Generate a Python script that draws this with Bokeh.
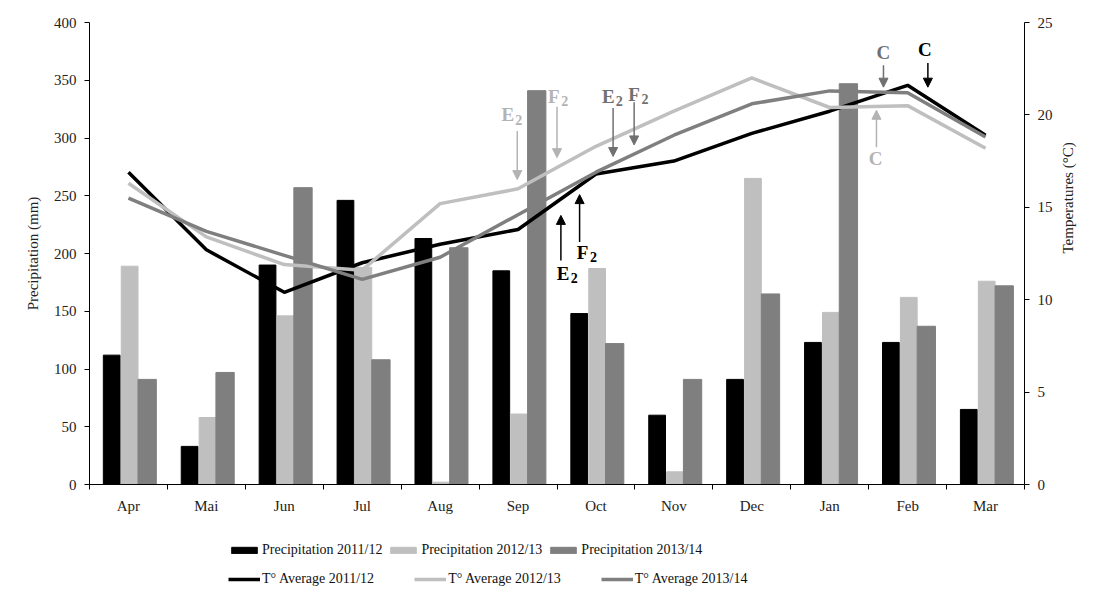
import math
from bokeh.plotting import figure
from bokeh.layouts import column
from bokeh.models import (Range1d, LinearAxis, FixedTicker, Legend, LegendItem,
                          Arrow, NormalHead, Label)
from bokeh.embed import file_html
from bokeh.resources import INLINE

# ---------------- data ----------------
months = ["Apr", "Mai", "Jun", "Jul", "Aug", "Sep", "Oct", "Nov", "Dec", "Jan", "Feb", "Mar"]
prec_2011 = [112, 33, 190, 246, 213, 185, 148, 60, 91, 123, 123, 65]
prec_2012 = [189, 58, 146, 188, 2, 61, 187, 11, 265, 149, 162, 176]
prec_2013 = [91, 97, 257, 108, 205, 341, 122, 91, 165, 347, 137, 172]
temp_2011 = [16.9, 12.7, 10.4, 12.0, 13.0, 13.8, 16.8, 17.5, 19.0, 20.2, 21.6, 18.9]
temp_2012 = [16.3, 13.4, 11.9, 11.6, 15.2, 16.0, 18.3, 20.2, 22.0, 20.4, 20.5, 18.2]
temp_2013 = [15.5, 13.7, 12.4, 11.1, 12.3, 14.6, 16.9, 18.9, 20.6, 21.3, 21.2, 18.8]
prec_ticks = [0, 50, 100, 150, 200, 250, 300, 350, 400]
temp_ticks = [0, 5, 10, 15, 20, 25]
prec_labels = ["Precipitation 2011/12", "Precipitation 2012/13", "Precipitation 2013/14"]
temp_labels = ["T° Average 2011/12", "T° Average 2012/13", "T° Average 2013/14"]

BLACK = "#000000"
LIGHT = "#bfbfbf"
DARK = "#7f7f7f"
FONT = "Liberation Serif"

centers = [i + 0.5 for i in range(len(months))]
precs = [prec_2011, prec_2012, prec_2013]
temps = [temp_2011, temp_2012, temp_2013]
colors = [BLACK, LIGHT, DARK]
bar_shift = [-0.215, 0.015, 0.24]
bar_width = [0.215, 0.215, 0.235]

p = figure(width=1099, height=516, output_backend="svg", toolbar_location=None,
           x_range=Range1d(0, 12), y_range=Range1d(0, 400),
           min_border_left=89, min_border_right=75, min_border_top=22,
           min_border_bottom=31)
p.outline_line_color = None
p.grid.visible = False
p.extra_y_ranges = {"temp": Range1d(0, 25)}

for vals, col, sh, w in zip(precs, colors, bar_shift, bar_width):
    p.vbar(x=[c + sh for c in centers], top=vals, width=w, color=col)
for vals, col in zip(temps, colors):
    p.line(centers, vals, y_range_name="temp", line_color=col, line_width=3.5)

# axes
def style_axis(ax):
    ax.axis_line_color = "#000000"
    ax.major_tick_line_color = "#000000"
    ax.minor_tick_line_color = None
    ax.major_tick_in = 0
    ax.major_tick_out = 5
    ax.major_label_text_font = FONT
    ax.major_label_text_font_size = "15px"
    ax.major_label_text_color = "#222222"
    ax.axis_label_text_font = FONT
    ax.axis_label_text_font_size = "15px"
    ax.axis_label_text_font_style = "normal"
    ax.axis_label_text_color = "#222222"

yax = p.yaxis[0]
yax.ticker = FixedTicker(ticks=prec_ticks)
yax.axis_label = "Precipitation (mm)"
style_axis(yax)
yax.major_label_standoff = 8
yax.axis_label_standoff = 10

rax = LinearAxis(y_range_name="temp", ticker=FixedTicker(ticks=temp_ticks),
                 axis_label="Temperatures (°C)")
style_axis(rax)
rax.major_label_standoff = 8
rax.axis_label_standoff = 12
rax.axis_label_orientation = math.pi / 2
p.add_layout(rax, "right")

xax = p.xaxis[0]
xax.ticker = FixedTicker(ticks=centers, minor_ticks=list(range(13)))
xax.major_label_overrides = {c: m for c, m in zip(centers, months)}
style_axis(xax)
xax.major_tick_line_color = None
xax.minor_tick_line_color = "#000000"
xax.minor_tick_in = 0
xax.minor_tick_out = 5
xax.major_label_standoff = 8

# annotations: (text, subscript, color, x, y_start, y_end, label_x, label_y)
annots = [
    ("E", "2", "#b3b3b3", 5.49, 306, 264, 5.42, 320),
    ("F", "2", "#b3b3b3", 6.00, 327, 283, 6.01, 336),
    ("E", "2", "#707070", 6.72, 326, 284, 6.71, 336),
    ("F", "2", "#707070", 6.99, 331, 294, 7.04, 338),
    ("E", "2", "#000000", 6.05, 194, 233, 6.13, 183),
    ("F", "2", "#000000", 6.29, 210, 251, 6.38, 201),
    ("C", "", "#707070", 10.19, 363, 344, 10.19, 374),
    ("C", "", "#000000", 10.76, 365, 344, 10.72, 377),
    ("C", "", "#b3b3b3", 10.10, 292, 324, 10.09, 282),
]
for t, sub, col, ax_, ys, ye, lx, ly in annots:
    p.add_layout(Arrow(end=NormalHead(size=9, fill_color=col, line_color=col),
                       x_start=ax_, y_start=ys, x_end=ax_, y_end=ye,
                       line_color=col, line_width=1.5))
    off = -4 if sub else 0
    p.add_layout(Label(x=lx, y=ly, x_offset=off, text=t, text_font=FONT,
                       text_font_size="19px", text_font_style="bold",
                       text_color=col, text_align="center", text_baseline="middle"))
    if sub:
        p.add_layout(Label(x=lx, y=ly, x_offset=7, y_offset=-5, text=sub, text_font=FONT,
                           text_font_size="14px", text_font_style="bold",
                           text_color=col, text_align="center", text_baseline="middle"))

# ---------------- legend strip (separate figure below the chart) ----------------
# Same series drawn again, far outside this strip's visible range, so only the legend shows.
lf = figure(width=1099, height=76, output_backend="svg", toolbar_location=None,
            x_range=Range1d(0, 12), y_range=Range1d(5000, 5001),
            x_axis_type=None, y_axis_type=None,
            min_border_left=0, min_border_right=0, min_border_top=0, min_border_bottom=0)
lf.outline_line_color = None
lf.grid.visible = False

bar_items = []
line_items = []
for lab, vals, col, sh, w in zip(prec_labels, precs, colors, bar_shift, bar_width):
    r = lf.vbar(x=[c + sh for c in centers], top=vals, width=w, color=col)
    bar_items.append(LegendItem(label=lab, renderers=[r]))
for lab, vals, col in zip(temp_labels, temps, colors):
    r = lf.line(centers, vals, line_color=col, line_width=3.5)
    line_items.append(LegendItem(label=lab, renderers=[r]))

def make_legend(items, spacing, loc):
    return Legend(items=items, orientation="horizontal", location=loc,
                  label_text_font=FONT, label_text_font_size="14px",
                  label_text_color="#111111", glyph_width=32, glyph_height=8,
                  label_height=17, label_standoff=2, spacing=spacing,
                  padding=0, margin=0,
                  border_line_color=None, background_fill_alpha=0)

lf.add_layout(make_legend(bar_items, 5, (139, 34)), "center")
lf.add_layout(make_legend(line_items, 40, (139, 5)), "center")

layout = column(p, lf, spacing=0)
open("out.html", "w").write(file_html(layout, INLINE))
